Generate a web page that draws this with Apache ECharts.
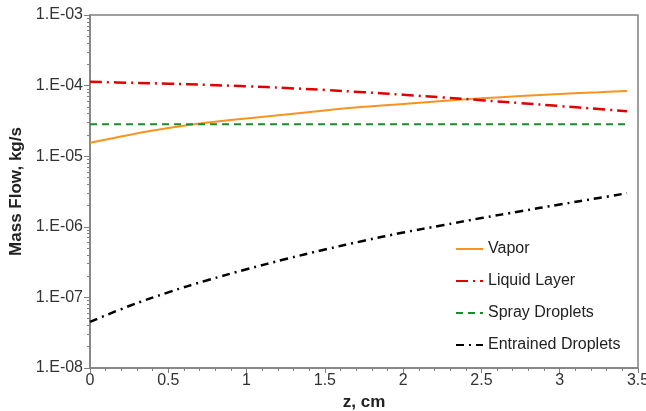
<!DOCTYPE html>
<html>
<head>
<meta charset="utf-8">
<script src="https://cdn.jsdelivr.net/npm/echarts@6/dist/echarts.min.js"></script>
<style>
  html, body { margin: 0; padding: 0; background: #fff; }
  #chart { width: 646px; height: 411px; }
</style>
</head>
<body>
<div id="chart"></div>
<script>
var zValues = [0, 0.25, 0.5, 0.75, 1.0, 1.25, 1.5, 1.75, 2.0, 2.25, 2.5, 2.75, 3.0, 3.25, 3.43];

// mass flow, kg/s
var vapor     = [1.55e-5, 2.0e-5, 2.5e-5, 3.0e-5, 3.43e-5, 3.9e-5, 4.45e-5, 5.0e-5, 5.5e-5, 6.05e-5, 6.6e-5, 7.1e-5, 7.6e-5, 8.05e-5, 8.4e-5];
var liquid    = [1.13e-4, 1.099e-4, 1.064e-4, 1.023e-4, 9.77e-5, 9.25e-5, 8.67e-5, 8.05e-5, 7.43e-5, 6.81e-5, 6.21e-5, 5.65e-5, 5.13e-5, 4.65e-5, 4.33e-5];
var sprayZ    = [0, 3.43];
var spray     = [2.83e-5, 2.83e-5];
var entrained = [4.5e-8, 7.55e-8, 1.18e-7, 1.75e-7, 2.5e-7, 3.49e-7, 4.76e-7, 6.35e-7, 8.28e-7, 1.05e-6, 1.33e-6, 1.66e-6, 2.07e-6, 2.56e-6, 2.99e-6];

var seriesNames = ['Vapor', 'Liquid Layer', 'Spray Droplets', 'Entrained Droplets'];

// minor log ticks 2..9 in each decade
var minorTicks = [];
for (var d = -8; d < -3; d++) {
  for (var m = 2; m <= 9; m++) {
    minorTicks.push(m * Math.pow(10, d));
  }
}

function pairs(xs, ys) {
  return xs.map(function (x, i) { return [x, ys[i]]; });
}

var font = 'Arial, "Liberation Sans", sans-serif';
var axisGray = '#808080';

var chart = echarts.init(document.getElementById('chart'));

chart.setOption({
  animation: false,
  grid: {
    left: 90, right: 8, top: 15, bottom: 43,
    outerBoundsMode: 'none',
    containLabel: false,
    show: true, borderColor: axisGray, borderWidth: 1.5
  },
  legend: {
    data: seriesNames,
    orient: 'vertical',
    left: 450,
    top: 236,
    itemWidth: 27,
    itemHeight: 14,
    itemGap: 16,
    itemStyle: { opacity: 0 },
    textStyle: { fontFamily: font, fontSize: 16, color: '#222' }
  },
  xAxis: {
    type: 'value',
    min: 0, max: 3.5, interval: 0.5,
    name: 'z, cm',
    nameLocation: 'middle',
    nameGap: 22,
    nameTextStyle: { fontFamily: font, fontSize: 17, fontWeight: 'bold', color: '#222' },
    axisLine: { lineStyle: { color: axisGray, width: 1.5 } },
    axisTick: { length: 5, lineStyle: { color: axisGray } },
    minorTick: { show: true, splitNumber: 5, length: 3, lineStyle: { color: axisGray } },
    axisLabel: { fontFamily: font, fontSize: 16, color: '#333', margin: 5 },
    splitLine: { show: false }
  },
  yAxis: [
    {
      type: 'log',
      logBase: 10,
      min: 1e-8, max: 1e-3,
      name: 'Mass Flow, kg/s',
      nameLocation: 'middle',
      nameGap: 62,
      nameTextStyle: { fontFamily: font, fontSize: 17, fontWeight: 'bold', color: '#222' },
      axisLine: { show: true, lineStyle: { color: axisGray, width: 1.5 } },
      axisTick: { show: true, length: 6, lineStyle: { color: axisGray } },
      axisLabel: {
        fontFamily: font, fontSize: 16, color: '#333', margin: 7,
        formatter: function (v) {
          var e = Math.round(Math.log10(v));
          return '1.E-' + (e < 0 ? ('0' + (-e)).slice(-2) : e);
        }
      },
      splitLine: { show: false }
    },
    {
      type: 'log',
      logBase: 10,
      min: 1e-8, max: 1e-3,
      position: 'left',
      axisLine: { show: false },
      axisTick: { show: true, length: 3, customValues: minorTicks, lineStyle: { color: axisGray } },
      axisLabel: { show: false },
      splitLine: { show: false }
    }
  ],
  series: [
    {
      name: 'Vapor', type: 'line', symbol: 'none', smooth: 0.4,
      data: pairs(zValues, vapor),
      lineStyle: { color: '#F7931E', width: 2 },
      itemStyle: { color: '#F7931E' }
    },
    {
      name: 'Liquid Layer', type: 'line', symbol: 'none', smooth: 0.4,
      data: pairs(zValues, liquid),
      lineStyle: { color: '#E00000', width: 2.5, type: [12, 5, 2, 5] },
      itemStyle: { color: '#E00000' }
    },
    {
      name: 'Spray Droplets', type: 'line', symbol: 'none',
      data: pairs(sprayZ, spray),
      lineStyle: { color: '#1E8A2E', width: 2, type: [7, 5] },
      itemStyle: { color: '#1E8A2E' }
    },
    {
      name: 'Entrained Droplets', type: 'line', symbol: 'none', smooth: 0.4,
      data: pairs(zValues, entrained),
      lineStyle: { color: '#000', width: 2.5, type: [8, 5, 2, 5] },
      itemStyle: { color: '#000' }
    }
  ]
});
</script>
</body>
</html>
